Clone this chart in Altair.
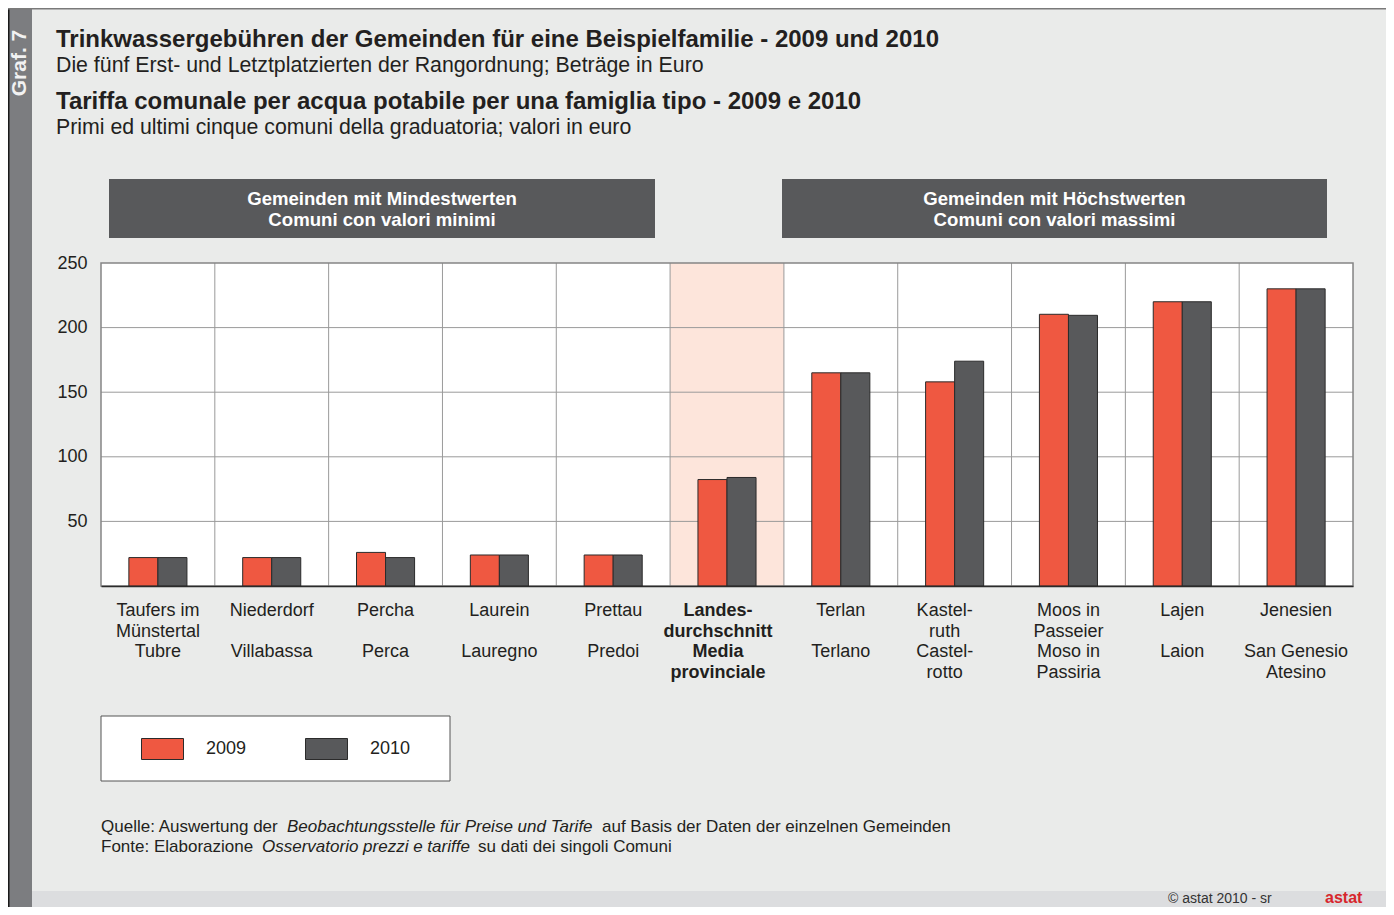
import altair as alt
import pandas as pd

# ---------------- data ----------------
keys = ["Taufers", "Niederdorf", "Percha", "Laurein", "Prettau", "Landes",
        "Terlan", "Kastelruth", "Moos", "Lajen", "Jenesien"]
labels_de = ["Taufers im\nMünstertal", "Niederdorf", "Percha", "Laurein", "Prettau",
             "Landes-\ndurchschnitt", "Terlan", "Kastel-\nruth", "Moos in\nPasseier",
             "Lajen", "Jenesien"]
labels_it = ["Tubre", "Villabassa", "Perca", "Lauregno", "Predoi",
             "Media\nprovinciale", "Terlano", "Castel-\nrotto", "Moso in\nPassiria",
             "Laion", "San Genesio\nAtesino"]
is_average = [False, False, False, False, False, True, False, False, False, False, False]
is_hyphenated = [False, False, False, False, False, True, False, True, False, False, False]
v2009 = [22, 22, 26, 24, 24, 82.4, 165, 158, 210.3, 220, 230]
v2010 = [22, 22, 22, 24, 24, 84, 165, 174, 209.5, 220, 230]
years = ["2009", "2010"]
y_ticks = [50, 100, 150, 200, 250]

title_de = "Trinkwassergebühren der Gemeinden für eine Beispielfamilie - 2009 und 2010"
sub_de = "Die fünf Erst- und Letztplatzierten der Rangordnung; Beträge in Euro"
title_it = "Tariffa comunale per acqua potabile per una famiglia tipo - 2009 e 2010"
sub_it = "Primi ed ultimi cinque comuni della graduatoria; valori in euro"
header_left = "Gemeinden mit Mindestwerten\nComuni con valori minimi"
header_right = "Gemeinden mit Höchstwerten\nComuni con valori massimi"
src1 = ["Quelle: Auswertung der ", "Beobachtungsstelle für Preise und Tarife",
        "auf Basis der Daten der einzelnen Gemeinden"]
src2 = ["Fonte: Elaborazione ", "Osservatorio prezzi e tariffe", "su dati dei singoli Comuni"]
graf = "Graf. 7"
copyright_txt = "©  astat 2010 - sr"
logo_txt = "astat"

# ---------------- styling ----------------
RED = "#ef5841"
DARK = "#58595b"
PINK = "#fde5db"
BG = "#eaebea"
TXT = "#231f20"
FONT = "Liberation Sans"
W, H = 1252, 323

bars_df = pd.DataFrame({
    "cat": keys * 2,
    "year": [years[0]] * len(keys) + [years[1]] * len(keys),
    "value": v2009 + v2010,
})
cat_df = pd.DataFrame({"cat": keys, "de": labels_de, "it": labels_it,
                       "avg": is_average, "hyph": is_hyphenated})
one = pd.DataFrame({"a": [0]})

xscale = alt.Scale(domain=keys, paddingInner=0, paddingOuter=0)
yscale = alt.Scale(domain=[0, 250], nice=False, zero=True)
xaxis = alt.Axis(title=None, labels=False, ticks=False, grid=False,
                 domain=True, domainColor="#2b2b2b", domainWidth=1.5)
yaxis = alt.Axis(values=y_ticks, title=None, ticks=False, domain=False, grid=False,
                 labelFontSize=18, labelPadding=14, labelColor=TXT, labelFont=FONT)


def X(**kw):
    return alt.X("cat:N", scale=xscale, sort=keys, axis=xaxis, **kw)


def rect(x, x2, y, y2, **kw):
    return alt.Chart(one).mark_rect(**kw).encode(
        x=alt.value(x), x2=alt.value(x2), y=alt.value(y), y2=alt.value(y2))


def text(t, x, y, **kw):
    kw.setdefault("baseline", "alphabetic")
    return alt.Chart(pd.DataFrame({"t": [t]})).mark_text(font=FONT, **kw).encode(
        x=alt.value(x), y=alt.value(y), text="t:N")


# frame decorations
left_strip = rect(-93, -69, -255, 644, fill="#7c7d80")
left_line = rect(-93, -91.5, -255, 644, fill="#1a1a1a")
top_line = rect(-93, 1285, -255, -253.5, fill="#7a7a7a")
bottom_strip = rect(-69, 1285, 628, 644, fill="#dcdddf")
graf_txt = text(graf, -81.5, -200, angle=270, align="center", baseline="middle",
                fontSize=21, fontWeight="bold", color="#f2f2f2")

# titles
t1 = text(title_de, -45, -216, align="left", fontSize=24, fontWeight="bold", color=TXT)
t2 = text(sub_de, -45, -191.5, align="left", fontSize=21.3, color=TXT)
t3 = text(title_it, -45, -154.5, align="left", fontSize=24, fontWeight="bold", color=TXT)
t4 = text(sub_it, -45, -129.5, align="left", fontSize=21.3, color=TXT)

# group header boxes
hb1 = rect(8, 554, -84, -25, fill=DARK)
hb2 = rect(681, 1226, -84, -25, fill=DARK)
ht1 = text(header_left, 281, -64, align="center", baseline="middle", lineBreak="\n",
           lineHeight=21, fontSize=18.6, fontWeight="bold", color="white")
ht2 = text(header_right, 953.5, -64, align="center", baseline="middle", lineBreak="\n",
           lineHeight=21, fontSize=18.6, fontWeight="bold", color="white")

# plot background and highlighted average band
plot_bg = rect(0, W, 0, H, fill="white")
avg_band = alt.Chart(cat_df).transform_filter("datum.avg").mark_rect(color=PINK).encode(
    x=X(), y=alt.value(0), y2=alt.value(H))

# grid lines
hgrid = alt.Chart(pd.DataFrame({"v": y_ticks[:-1]})).mark_rule(color="#9a9a9a", strokeWidth=1).encode(
    y=alt.Y("v:Q", scale=yscale, axis=yaxis))
vgrid = alt.Chart(pd.DataFrame({"cat": keys[1:]})).mark_rule(color="#9a9a9a", strokeWidth=1).encode(
    x=X(bandPosition=0))
frame = rect(0, W, 0, H, fill="transparent", stroke="#858585", strokeWidth=1.5)

# bars
bars = alt.Chart(bars_df).mark_bar(stroke="#2b2b2b", strokeWidth=1).encode(
    x=X(),
    xOffset=alt.XOffset("year:N", scale=alt.Scale(domain=years, paddingInner=0, paddingOuter=0.96)),
    y=alt.Y("value:Q", scale=yscale, axis=yaxis),
    color=alt.Color("year:N", scale=alt.Scale(domain=years, range=[RED, DARK]),
                    legend=alt.Legend(orient="none", legendX=40, legendY=464.5,
                                      direction="horizontal", title=None, padding=0,
                                      symbolType="M-1,-0.5H1V0.5H-1Z", symbolSize=1764,
                                      symbolStrokeColor="#2b2b2b", symbolStrokeWidth=1,
                                      symbolOpacity=1,
                                      labelFontSize=18, labelFont=FONT, labelColor=TXT,
                                      labelOffset=22, columnPadding=56)),
)


# category labels: German block on top, Italian block from the third line
def xlab(filt, field, ypos, weight="normal", dx=0):
    return alt.Chart(cat_df).transform_filter(filt).mark_text(
        font=FONT, fontSize=18, lineBreak="\n", lineHeight=20.7, fontWeight=weight, dx=dx,
        align="center", baseline="alphabetic", color=TXT).encode(
        x=X(), y=alt.value(ypos), text=f"{field}:N")


LAB_Y = H + 30
label_layers = [
    xlab("!datum.hyph", "de", LAB_Y),
    xlab("!datum.hyph", "it", LAB_Y + 41.4),
    xlab("datum.hyph && datum.avg", "de", LAB_Y, "bold", -9),
    xlab("datum.hyph && datum.avg", "it", LAB_Y + 41.4, "bold", -9),
    xlab("datum.hyph && !datum.avg", "de", LAB_Y, "normal", -10),
    xlab("datum.hyph && !datum.avg", "it", LAB_Y + 41.4, "normal", -10),
]

# legend box
legend_box = rect(0, 349, 453, 518, fill="white", stroke="#555", strokeWidth=1)

# source lines
s1a = text(src1[0], 0, 568.5, align="left", fontSize=17, color=TXT)
s1b = text(src1[1], 186, 568.5, align="left", fontSize=17, fontStyle="italic", color=TXT)
s1c = text(src1[2], 501, 568.5, align="left", fontSize=17, color=TXT)
s2a = text(src2[0], 0, 589, align="left", fontSize=17, color=TXT)
s2b = text(src2[1], 161, 589, align="left", fontSize=17, fontStyle="italic", color=TXT)
s2c = text(src2[2], 377, 589, align="left", fontSize=17, color=TXT)

copy_t = text(copyright_txt, 1067, 640, align="left", fontSize=14, color="#333")
logo_t = text(logo_txt, 1224, 640, align="left", fontSize=16, fontWeight="bold", color="#d7262c")

chart = alt.layer(
    left_strip, left_line, top_line, bottom_strip, graf_txt,
    t1, t2, t3, t4,
    hb1, hb2, ht1, ht2,
    plot_bg, avg_band, hgrid, vgrid, frame, bars, *label_layers,
    legend_box,
    s1a, s1b, s1c, s2a, s2b, s2c,
    copy_t, logo_t,
).properties(
    width=W, height=H,
    autosize=alt.AutoSizeParams(type="none"),
    padding={"left": 93, "top": 255, "right": 33, "bottom": 321},
    background=BG,
).configure_view(
    stroke="#7a7a7a", strokeWidth=1.4,
).configure(font=FONT)

chart.save("out.html", embed_options={"renderer": "svg", "actions": False})
